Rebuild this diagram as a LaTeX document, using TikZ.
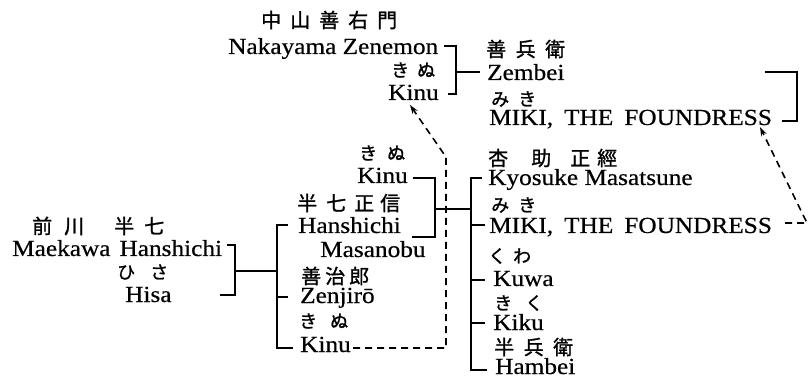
\documentclass[tikz,border=0pt]{standalone}
\usepackage{fontspec}
\setmainfont{Liberation Serif}[FakeStretch=1.1,FakeBold=0.5]
\newfontfamily\jpfont{Noto Sans CJK JP}[FakeBold=1.2]
\usetikzlibrary{arrows.meta}
\begin{document}
\begin{tikzpicture}[x=1pt,y=-1pt,
  lat/.style={anchor=base west, inner sep=0pt, font=\fontsize{23}{23}\selectfont},
  jk/.style={anchor=west, inner sep=0pt, font=\jpfont\fontsize{20}{20}\selectfont},
  jh/.style={anchor=west, inner sep=0pt, font=\jpfont\fontsize{18}{18}\selectfont},
  ln/.style={line width=1.8pt},
  dsh/.style={line width=1.6pt, dash pattern=on 7pt off 5pt},
  arr/.style={dsh, -{Stealth[length=9pt,width=6pt]}}]
\useasboundingbox (0,0) rectangle (808,379);

% ---------- Japanese names ----------
\node[jk] (nakJ) at (261,20) {中\hspace{9pt}山\hspace{9pt}善\hspace{9pt}右\hspace{9pt}門};
\node[jh] (kinuAJ) at (391,70) {き\hspace{8pt}ぬ};
\node[jk] (zembeiJ) at (486,49) {善\hspace{9.5pt}兵\hspace{9.5pt}衛};
\node[jh] (mikiAJ) at (491,99) {み\hspace{9pt}き};
\node[jk] (maekawaJ) at (32,226) {前\hspace{12pt}川\hspace{30pt}半\hspace{10pt}七};
\node[jh] (hisaJ) at (117,272) {ひ\hspace{15pt}さ};
\node[jh] (kinuBJ) at (359,153) {き\hspace{10pt}ぬ};
\node[jk] (hanshichiJ) at (297,203) {半\hspace{9pt}七\hspace{8pt}正\hspace{6pt}信};
\node[jk] (zenjiroJ) at (301,276) {善\hspace{4pt}治\hspace{4pt}郎};
\node[jh] (kinuCJ) at (299,321) {き\hspace{13pt}ぬ};
\node[jk] (kyosukeJ) at (488,158) {杏\hspace{23pt}助\hspace{19pt}正\hspace{7pt}經};
\node[jh] (mikiBJ) at (491,205) {み\hspace{9pt}き};
\node[jh] (kuwaJ) at (488,256) {く\hspace{7pt}わ};
\node[jh] (kikuJ) at (494,303) {き\hspace{13pt}く};
\node[jk] (hambeiJ) at (494,347) {半\hspace{9.5pt}兵\hspace{9.5pt}衛};

% ---------- Latin names ----------
\node[lat] (nakE) at (228,54) {Nakayama Zenemon};
\node[lat] (kinuA) at (388,100) {Kinu};
\node[lat] (zembei) at (487,80) {Zembei};
\node[lat] (mikiA) at (489,125) {MIKI,\hspace{11pt}THE\hspace{11pt}FOUNDRESS};
\node[lat] (maekawa) at (12,256) {Maekawa\hspace{9pt}Hanshichi};
\node[lat] (hisa) at (125,302) {Hisa};
\node[lat] (kinuB) at (357,183) {Kinu};
\node[lat] (hanshichi) at (298,233) {Hanshichi};
\node[lat] (masanobu) at (320,257) {Masanobu};
\node[lat] (zenjiro) at (300,303) {Zenjirō};
\node[lat] (kinuC) at (300,352) {Kinu};
\node[lat] (kyosuke) at (488,185) {Kyosuke Masatsune};
\node[lat] (mikiB) at (489,233) {MIKI,\hspace{11pt}THE\hspace{11pt}FOUNDRESS};
\node[lat] (kuwa) at (493,286) {Kuwa};
\node[lat] (kiku) at (493,330) {Kiku};
\node[lat] (hambei) at (495,374) {Hambei};

% ---------- bracket coordinates ----------
\coordinate (n1a) at (444,46);  \coordinate (n1b) at (456,46);
\coordinate (n1c) at (456,94);  \coordinate (n1d) at (448,94);
\coordinate (n1m) at (456,72);  \coordinate (n1z) at (480,72);

\coordinate (z2a) at (765,72);  \coordinate (z2b) at (797,72);
\coordinate (z2c) at (797,121); \coordinate (z2d) at (782,121);

\coordinate (m3a) at (227,245); \coordinate (m3b) at (235,245);
\coordinate (m3c) at (235,295); \coordinate (m3d) at (220,295);
\coordinate (m3m) at (235,271); \coordinate (m3e) at (277,271);

\coordinate (c4a) at (288,225); \coordinate (c4b) at (277,225);
\coordinate (c4c) at (277,348); \coordinate (c4d) at (293,348);
\coordinate (c4z) at (277,297); \coordinate (c4zz) at (288,297);

\coordinate (k5a) at (413,178); \coordinate (k5b) at (435,178);
\coordinate (k5c) at (435,237); \coordinate (k5d) at (412,237);
\coordinate (k5m) at (435,209); \coordinate (k5e) at (471,209);

\coordinate (c6a) at (482,178); \coordinate (c6b) at (471,178);
\coordinate (c6c) at (471,370); \coordinate (c6d) at (487,370);
\coordinate (c6m1) at (471,225); \coordinate (c6m2) at (485,225);
\coordinate (c6k1) at (471,280); \coordinate (c6k2) at (485,280);
\coordinate (c6i1) at (471,323); \coordinate (c6i2) at (485,323);

\coordinate (d7a) at (353,348); \coordinate (d7b) at (446,348);
\coordinate (d7c) at (446,157); \coordinate (d7d) at (410,105);

\coordinate (d8a) at (785,223); \coordinate (d8b) at (807,223);
\coordinate (d8c) at (760,127);

% ---------- solid brackets ----------
\draw[ln] (n1a) -- (n1b) -- (n1c) -- (n1d);
\draw[ln] (n1m) -- (n1z);
\draw[ln] (z2a) -- (z2b) -- (z2c) -- (z2d);
\draw[ln] (m3a) -- (m3b) -- (m3c) -- (m3d);
\draw[ln] (m3m) -- (m3e);
\draw[ln] (c4a) -- (c4b) -- (c4c) -- (c4d);
\draw[ln] (c4z) -- (c4zz);
\draw[ln] (k5a) -- (k5b) -- (k5c) -- (k5d);
\draw[ln] (k5m) -- (k5e);
\draw[ln] (c6a) -- (c6b) -- (c6c) -- (c6d);
\draw[ln] (c6m1) -- (c6m2);
\draw[ln] (c6k1) -- (c6k2);
\draw[ln] (c6i1) -- (c6i2);

% ---------- dashed cross references ----------
\draw[arr] (d7a) -- (d7b) -- (d7c) -- (d7d);
\draw[arr] (d8a) -- (d8b) -- (d8c);
\end{tikzpicture}
\end{document}
